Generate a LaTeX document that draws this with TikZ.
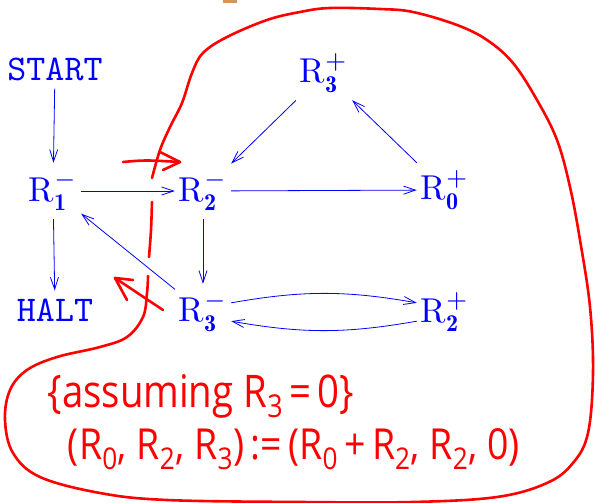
\documentclass[tikz,border=0pt]{standalone}
\usepackage{fontspec}
\usepackage{graphicx}
\newfontfamily\handfont{Open Sans}
\usetikzlibrary{arrows.meta}
\definecolor{penblue}{RGB}{0,0,255}
\definecolor{penred}{RGB}{255,0,0}
\definecolor{tabor}{RGB}{214,150,90}
\newcommand{\regname}[3]{\scalebox{3.45}{$\mathrm{R}^{#1}_{\mathbf{#2}}$}}
\newcommand{\bigword}[1]{\scalebox{3.62}{\texttt{#1}}}
\begin{document}
\begin{tikzpicture}[x=1pt,y=1pt,
  reg/.style={text=penblue, minimum width=56pt, minimum height=56pt, inner sep=0pt},
  word/.style={text=penblue, inner xsep=2pt, inner ysep=8pt},
  link/.style={draw=penblue, line width=0.8pt, -{Straight Barb[length=12pt,width=8pt]}},
  pen/.style={draw=penred, line width=2.6pt, line cap=round, line join=round},
  hand/.style={text=penred, font=\handfont\fontsize{30}{34}\selectfont, inner sep=0pt}]
\useasboundingbox (0,0) rectangle (595,-503);
\fill[tabor] (223,0) rectangle (237,-3);
% nodes
\node[word] (start) at (55,-69) {\bigword{START}};
\node[word] (halt) at (55,-310) {\bigword{HALT}};
\node[reg] (r1m) at (53,-191) {\regname{-}{1}{}};
\node[reg] (r2m) at (203,-191) {\regname{-}{2}{}};
\node[reg] (r0p) at (445,-190) {\regname{+}{0}{}};
\node[reg] (r3p) at (324,-73) {\regname{+}{3}{}};
\node[reg] (r3m) at (203,-312) {\regname{-}{3}{}};
\node[reg] (r2p) at (445,-312) {\regname{+}{2}{}};
% blue connectors
\draw[link] (start) -- (r1m);
\draw[link] (r1m) -- (halt);
\draw[link] (r1m) -- (r2m);
\draw[link] (r2m) -- (r0p);
\draw[link] (r0p) -- (r3p);
\draw[link] (r3p) -- (r2m);
\draw[link] (r2m) -- (r3m);
\draw[link] (r3m) -- (r1m);
\draw[link] (r3m.18) to[bend left=10] (r2p.162);
\draw[link] (r2p.198) to[bend left=10] (r3m.342);
% red loop
\draw[pen] plot[smooth, tension=0.6] coordinates {(152,-178) (160,-150) (170,-127) (182,-103) (192,-73) (203,-53) (227,-37) (267,-20) (300,-12) (330,-8) (380,-9) (413,-12) (457,-25) (487,-40) (513,-63) (537,-100) (557,-140) (570,-187) (580,-240) (590,-307) (593,-373) (588,-433) (573,-463) (547,-483) (497,-497) (413,-502) (300,-502) (167,-500) (100,-493) (40,-477) (13,-453) (5,-420) (10,-390) (27,-370) (57,-357) (100,-347) (127,-337) (143,-317) (147,-293) (148,-276)};
\draw[pen] plot[smooth, tension=0.6] coordinates {(152,-202) (151,-230) (149,-257)};
% red arrows
\coordinate (ta) at (123,-162);
\coordinate (tb) at (180,-162);
\draw[pen] (ta) .. controls (145,-160) .. (tb);
\draw[pen] (160,-152) -- (tb) -- (163,-170);
\coordinate (la) at (163,-310);
\coordinate (lb) at (115,-278);
\draw[pen] (la) -- (lb);
\draw[pen] (133,-280) -- (lb) -- (127,-300);
% red text
\node[hand] (note1) at (201,-396) {\resizebox{307pt}{33pt}{\{assuming R\textsubscript{3}\,=\,0\}}};
\node[hand] (note2) at (294,-449) {\resizebox{452pt}{31pt}{(R\textsubscript{0}, R\textsubscript{2}, R\textsubscript{3})\,:=\,(R\textsubscript{0}\,+\,R\textsubscript{2}, R\textsubscript{2}, 0)}};
\end{tikzpicture}
\end{document}
